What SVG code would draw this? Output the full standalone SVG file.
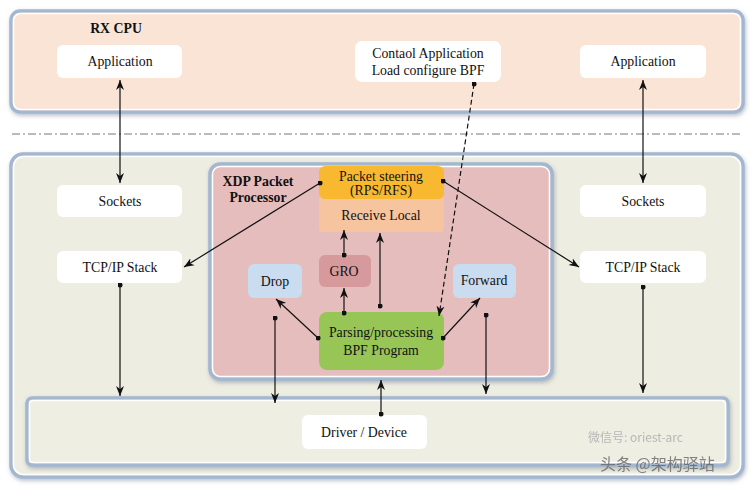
<svg xmlns="http://www.w3.org/2000/svg" width="754" height="486" viewBox="0 0 754 486">
<defs>
<style>
.t{font-family:"Liberation Serif","Times New Roman",serif;font-size:13.8px;fill:#111;text-anchor:middle;dominant-baseline:central}
.b{font-weight:bold}
.wb{fill:#fff}
.ln{stroke:#111;stroke-width:1.2;fill:none}
.panel{stroke:#a3b7d0;stroke-width:3.5}
.inner{fill:none;stroke:#fff;stroke-width:1.5}
</style>
<marker id="arr" viewBox="0 0 10 10" refX="10" refY="5" markerWidth="10" markerHeight="10" markerUnits="userSpaceOnUse" orient="auto-start-reverse"><path d="M0,1 L10,5 L0,9 L3,5 z" fill="#111"/></marker>
<marker id="dot" viewBox="0 0 6 6" refX="3" refY="3" markerWidth="5" markerHeight="5" markerUnits="userSpaceOnUse"><circle cx="3" cy="3" r="3" fill="#111"/></marker>
<filter id="sh" x="-5%" y="-5%" width="110%" height="115%"><feDropShadow dx="1" dy="2" stdDeviation="2" flood-color="#6f7f95" flood-opacity="0.5"/></filter>
</defs>
<rect width="754" height="486" fill="#fff"/>
<g id="rx-cpu-panel">
<rect x="11" y="11" width="732" height="101" rx="9" fill="#fae4d5" class="panel" filter="url(#sh)"/>
<rect x="13.5" y="13.5" width="727" height="96" rx="7" class="inner"/>
<text x="116" y="28" class="t b">RX CPU</text>
</g>
<line x1="12" y1="134" x2="742" y2="134" stroke="#777" stroke-width="1" stroke-dasharray="8,3,2,3"/>
<g id="kernel-panel">
<rect x="11" y="154" width="732" height="323" rx="12" fill="#edede1" class="panel" filter="url(#sh)"/>
<rect x="13.5" y="156.5" width="727" height="318" rx="10" class="inner"/>
</g>
<g id="driver-panel">
<rect x="27" y="398" width="701" height="67" rx="5" fill="#eeeee3" class="panel" filter="url(#sh)"/>
<rect x="29.5" y="400.5" width="696" height="62" rx="4" class="inner"/>
</g>
<g id="xdp-panel">
<rect x="210" y="164" width="342" height="215" rx="10" fill="#e6bdbd" class="panel" filter="url(#sh)"/>
<rect x="212.5" y="166.5" width="337" height="210" rx="8" class="inner"/>
<text x="258" y="181" class="t b">XDP Packet</text>
<text x="258" y="197" class="t b">Processor</text>
</g>
<g id="app-left"><rect x="57" y="45" width="125" height="33" rx="6" class="wb"/><text x="120" y="61.5" class="t">Application</text></g>
<g id="control-app"><rect x="355" y="41" width="146" height="41" rx="7" class="wb"/><text x="428" y="53" class="t">Contaol Application</text><text x="428" y="70" class="t">Load configure BPF</text></g>
<g id="app-right"><rect x="580" y="45" width="126" height="33" rx="6" class="wb"/><text x="643" y="61.5" class="t">Application</text></g>
<g id="sockets-left"><rect x="57" y="185" width="125" height="32" rx="6" class="wb"/><text x="120" y="201" class="t">Sockets</text></g>
<g id="tcpip-left"><rect x="57" y="251" width="125" height="32" rx="6" class="wb"/><text x="120" y="267" class="t">TCP/IP Stack</text></g>
<g id="sockets-right"><rect x="580" y="185" width="126" height="32" rx="6" class="wb"/><text x="643" y="201" class="t">Sockets</text></g>
<g id="tcpip-right"><rect x="580" y="251" width="126" height="32" rx="6" class="wb"/><text x="643" y="267" class="t">TCP/IP Stack</text></g>
<g id="receive-local"><rect x="319" y="196" width="125" height="36" rx="4" fill="#f6c5a0"/><text x="381" y="215" class="t">Receive Local</text></g>
<g id="packet-steering"><rect x="319" y="166" width="125" height="33" rx="6" fill="#f8b931"/><text x="381" y="176" class="t">Packet steering</text><text x="381" y="190" class="t">(RPS/RFS)</text></g>
<g id="gro"><rect x="319" y="255" width="52" height="32" rx="6" fill="#d79a9c"/><text x="344" y="271" class="t">GRO</text></g>
<g id="drop"><rect x="248" y="264" width="54" height="34" rx="6" fill="#cadcef"/><text x="275" y="281" class="t">Drop</text></g>
<g id="forward"><rect x="453" y="264" width="63" height="34" rx="6" fill="#cadcef"/><text x="484" y="280.5" class="t">Forward</text></g>
<g id="bpf-program"><rect x="319" y="312" width="125" height="58" rx="8" fill="#97c657"/><text x="381" y="332" class="t">Parsing/processing</text><text x="381" y="350" class="t">BPF Program</text></g>
<g id="driver-device"><rect x="302" y="415" width="125" height="34" rx="6" class="wb"/><text x="364" y="432" class="t">Driver / Device</text></g>
<g id="connectors">
<line x1="120" y1="80" x2="120" y2="183" class="ln" marker-start="url(#arr)" marker-end="url(#arr)"/>
<line x1="643" y1="80" x2="643" y2="183" class="ln" marker-start="url(#arr)" marker-end="url(#arr)"/>
<line x1="474" y1="84" x2="439" y2="316" class="ln" stroke-dasharray="5,3" marker-start="url(#dot)" marker-end="url(#arr)"/>
<line x1="320" y1="183" x2="184" y2="267" class="ln" marker-start="url(#dot)" marker-end="url(#arr)"/>
<line x1="443" y1="181" x2="579" y2="267" class="ln" marker-start="url(#dot)" marker-end="url(#arr)"/>
<line x1="344" y1="255" x2="344" y2="230" class="ln" marker-start="url(#dot)" marker-end="url(#arr)"/>
<line x1="344" y1="313" x2="344" y2="288" class="ln" marker-start="url(#dot)" marker-end="url(#arr)"/>
<line x1="380" y1="306" x2="380" y2="233" class="ln" marker-start="url(#dot)" marker-end="url(#arr)"/>
<line x1="318" y1="338" x2="276" y2="299" class="ln" marker-start="url(#dot)" marker-end="url(#arr)"/>
<line x1="443" y1="338" x2="480" y2="298" class="ln" marker-start="url(#dot)" marker-end="url(#arr)"/>
<line x1="120" y1="285" x2="120" y2="396" class="ln" marker-start="url(#dot)" marker-end="url(#arr)"/>
<line x1="275" y1="318" x2="275" y2="403" class="ln" marker-start="url(#dot)" marker-end="url(#arr)"/>
<line x1="381" y1="414" x2="381" y2="380" class="ln" marker-start="url(#dot)" marker-end="url(#arr)"/>
<line x1="486" y1="315" x2="486" y2="394" class="ln" marker-start="url(#dot)" marker-end="url(#arr)"/>
<line x1="643" y1="287" x2="643" y2="393" class="ln" marker-start="url(#dot)" marker-end="url(#arr)"/>
</g>
<g id="watermark" opacity="0.8">
<text x="588" y="442" style="font-family:'Noto Sans CJK SC',sans-serif;font-size:12px;fill:#aaa">微信号: oriest-arc</text>
<text x="600" y="470" style="font-family:'Noto Sans CJK SC',sans-serif;font-size:16px;fill:#666">头条 @架构驿站</text>
</g>
</svg>
